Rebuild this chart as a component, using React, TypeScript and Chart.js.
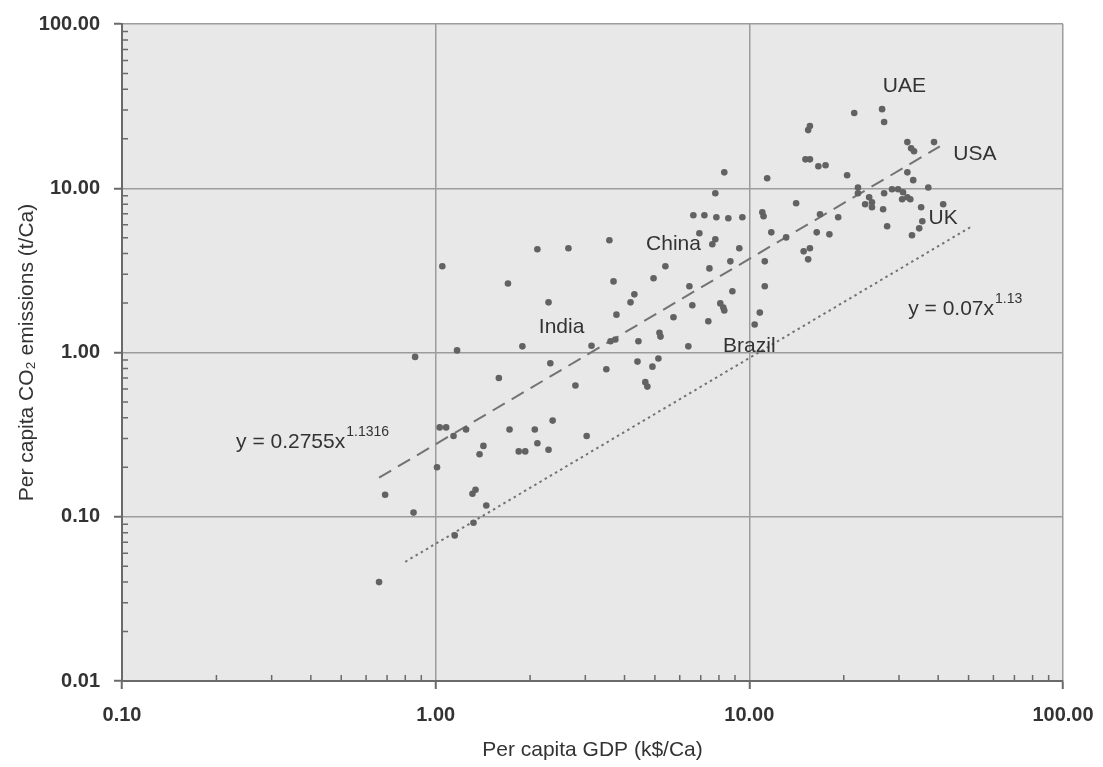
import React, { useEffect, useRef } from "react";
import { Chart, registerables } from "chart.js";

Chart.register(...registerables);

// Per capita GDP (k$/Ca) for each country point
const gdp = [
  0.66, 0.69, 0.85, 0.86, 1.01, 1.03, 1.08, 1.05, 1.14, 1.17, 1.25, 1.31, 1.34, 1.32, 1.15, 1.45,
  1.38, 1.42, 1.59, 1.7, 1.72, 1.84, 1.93, 1.89, 2.07, 2.11, 2.11, 2.29, 2.29, 2.32, 2.36, 2.65,
  2.79, 3.03, 3.14, 3.5, 3.61, 3.74, 3.58, 3.69, 3.77, 4.18, 4.3, 4.4, 4.43, 4.66, 4.73, 4.91,
  4.95, 5.13, 5.17, 5.21, 5.4, 5.73, 6.39, 6.44, 6.58, 6.63, 6.93, 7.19, 7.4, 7.46, 7.62, 7.79,
  7.79, 7.85, 8.08, 8.26, 8.32, 8.32, 8.57, 8.7, 8.83, 9.29, 9.5, 10.4, 10.8, 11.0, 11.1, 11.2,
  11.2, 11.4, 11.75, 13.1, 14.1, 14.9, 15.4, 15.6, 15.1, 15.6, 16.6, 17.5, 15.4, 15.6, 16.4, 18.0,
  19.2, 20.5, 21.6, 22.2, 22.2, 23.4, 24.1, 24.6, 24.6, 26.5, 26.9, 26.9, 26.7, 27.5, 28.5, 29.8,
  30.9, 31.9, 30.7, 32.6, 31.9, 32.8, 33.5, 31.9, 33.3, 33.0, 34.8, 35.3, 35.6, 37.2, 38.8, 41.5,
  16.8,
];

// Per capita CO2 emissions (t/Ca), same order as gdp
const co2 = [
  0.04, 0.136, 0.106, 0.94, 0.2, 0.35, 0.35, 3.35, 0.31, 1.03, 0.34, 0.138, 0.146, 0.092, 0.077, 0.117,
  0.24, 0.27, 0.7, 2.63, 0.34, 0.25, 0.25, 1.09, 0.34, 0.28, 4.25, 0.256, 2.02, 0.86, 0.385, 4.31,
  0.63, 0.31, 1.1, 0.79, 1.17, 1.2, 4.82, 2.71, 1.7, 2.02, 2.26, 0.88, 1.17, 0.66, 0.62, 0.82,
  2.83, 0.92, 1.32, 1.25, 3.35, 1.64, 1.09, 2.53, 1.94, 6.85, 5.32, 6.85, 1.55, 3.25, 4.56, 4.89,
  9.32, 6.66, 1.99, 1.88, 1.8, 12.5, 6.56, 3.59, 2.36, 4.31, 6.66, 1.48, 1.75, 7.14, 6.75, 3.59,
  2.53, 11.5, 5.39, 5.02, 8.1, 4.13, 3.69, 4.31, 15.0, 15.0, 13.6, 13.8, 22.6, 23.9, 5.39, 5.24,
  6.66, 12.0, 28.7, 10.1, 9.32, 7.99, 8.81, 8.21, 7.66, 30.3, 25.3, 9.32, 7.45, 5.87, 9.86, 9.86,
  9.45, 8.81, 8.57, 8.57, 19.1, 17.5, 16.8, 12.5, 11.2, 5.17, 5.7, 7.66, 6.29, 10.1, 19.1, 7.99,
  6.94,
];

// Fitted trend y = 0.2755x^1.1316 (dashed), end points
const dashedX = [0.66, 40.5];
const dashedY = [0.173, 18.0];
// Reference line y = 0.07x^1.13 (dotted), end points
const dottedX = [0.8, 50.6];
const dottedY = [0.0532, 5.79];

const xTicks = [0.1, 1, 10, 100];
const yTicks = [0.01, 0.1, 1, 10, 100];

const countryNames = ["UAE", "USA", "UK", "China", "India", "Brazil"];
const countryAnchorX = [31.2, 52.4, 41.5, 5.73, 2.52, 10.0];
const countryAnchorY = [41.9, 16.1, 6.56, 4.56, 1.42, 1.088];

const equations = [
  { base: "y = 0.2755x", exp: "1.1316", x: 0.231, y: 0.283 },
  { base: "y = 0.07x", exp: "1.13", x: 32.1, y: 1.83 },
];

const FONT = '"Liberation Sans", Arial, Helvetica, sans-serif';
const TEXT = "#333333";

const backgroundPlugin = {
  id: "plotBg",
  beforeDraw(chart: any) {
    const { ctx, chartArea } = chart;
    ctx.save();
    ctx.fillStyle = "#ffffff";
    ctx.fillRect(0, 0, chart.width, chart.height);
    ctx.fillStyle = "#e8e8e8";
    ctx.fillRect(chartArea.left, chartArea.top, chartArea.right - chartArea.left, chartArea.bottom - chartArea.top);
    ctx.restore();
  },
};

const minorTickPlugin = {
  id: "minorTicks",
  afterDraw(chart: any) {
    const { ctx, chartArea } = chart;
    const xs = chart.scales.x;
    const ys = chart.scales.y;
    ctx.save();
    ctx.strokeStyle = "#6a6a6a";
    ctx.lineWidth = 1.5;
    ctx.beginPath();
    for (let d = 0; d < xTicks.length - 1; d++) {
      for (let k = 2; k <= 9; k++) {
        const px = xs.getPixelForValue(xTicks[d] * k);
        ctx.moveTo(px, chartArea.bottom);
        ctx.lineTo(px, chartArea.bottom - 6);
      }
    }
    for (let d = 0; d < yTicks.length - 1; d++) {
      for (let k = 2; k <= 9; k++) {
        const py = ys.getPixelForValue(yTicks[d] * k);
        ctx.moveTo(chartArea.left, py);
        ctx.lineTo(chartArea.left + 6, py);
      }
    }
    ctx.stroke();
    ctx.restore();
  },
};

const annotationPlugin = {
  id: "annotations",
  afterDatasetsDraw(chart: any) {
    const { ctx } = chart;
    const xs = chart.scales.x;
    const ys = chart.scales.y;
    ctx.save();
    ctx.fillStyle = TEXT;
    ctx.font = `21px ${FONT}`;
    ctx.textAlign = "center";
    ctx.textBaseline = "middle";
    countryNames.forEach((name, i) => {
      ctx.fillText(name, xs.getPixelForValue(countryAnchorX[i]), ys.getPixelForValue(countryAnchorY[i]));
    });
    ctx.textAlign = "left";
    equations.forEach((eq) => {
      const px = xs.getPixelForValue(eq.x);
      const py = ys.getPixelForValue(eq.y);
      ctx.font = `21px ${FONT}`;
      ctx.fillText(eq.base, px, py);
      const w = ctx.measureText(eq.base).width;
      ctx.font = `14px ${FONT}`;
      ctx.fillText(eq.exp, px + w + 1, py - 10);
    });
    ctx.restore();
  },
};

export default function App() {
  const canvasRef = useRef<HTMLCanvasElement | null>(null);

  useEffect(() => {
    if (!canvasRef.current) return;
    const points = gdp.map((x, i) => ({ x, y: co2[i] }));
    const dashed = dashedX.map((x, i) => ({ x, y: dashedY[i] }));
    const dotted = dottedX.map((x, i) => ({ x, y: dottedY[i] }));

    const chart = new Chart(canvasRef.current, {
      type: "scatter",
      data: {
        datasets: [
          {
            label: "Countries",
            data: points,
            pointRadius: 3.3,
            pointHoverRadius: 3.3,
            pointBackgroundColor: "#626262",
            pointBorderWidth: 0,
            order: 1,
          },
          {
            label: "y = 0.2755x^1.1316",
            data: dashed,
            showLine: true,
            pointRadius: 0,
            borderColor: "#737373",
            borderWidth: 2,
            borderDash: [14, 8],
            order: 2,
          },
          {
            label: "y = 0.07x^1.13",
            data: dotted,
            showLine: true,
            pointRadius: 0,
            borderColor: "#737373",
            borderWidth: 2,
            borderDash: [2.5, 3.5],
            order: 2,
          },
        ],
      },
      options: {
        responsive: false,
        animation: false,
        layout: { padding: { top: 24, right: 40, left: 0, bottom: 0 } },
        plugins: { legend: { display: false }, tooltip: { enabled: false } },
        scales: {
          x: {
            type: "logarithmic",
            min: 0.1,
            max: 100,
            afterBuildTicks: (s: any) => {
              s.ticks = xTicks.map((v) => ({ value: v }));
            },
            afterFit: (s: any) => {
              s.height = 86;
              s.paddingLeft = 0;
              s.paddingRight = 0;
            },
            ticks: {
              callback: (v: any) => Number(v).toFixed(2),
              font: { family: FONT, size: 20, weight: "bold" },
              color: TEXT,
              padding: 14,
              maxRotation: 0,
              autoSkip: false,
            },
            grid: { color: "#9c9c9c", lineWidth: 1.5, tickLength: 8, tickColor: "#6a6a6a", tickWidth: 2 },
            border: { color: "#6a6a6a", width: 2 },
            title: {
              display: true,
              text: "Per capita GDP (k$/Ca)",
              font: { family: FONT, size: 21 },
              color: TEXT,
              padding: { top: 4, bottom: 4 },
            },
          },
          y: {
            type: "logarithmic",
            min: 0.01,
            max: 100,
            afterBuildTicks: (s: any) => {
              s.ticks = yTicks.map((v) => ({ value: v }));
            },
            afterFit: (s: any) => {
              s.width = 122;
              s.paddingTop = 0;
              s.paddingBottom = 0;
            },
            ticks: {
              callback: (v: any) => Number(v).toFixed(2),
              font: { family: FONT, size: 20, weight: "bold" },
              color: TEXT,
              padding: 14,
              autoSkip: false,
            },
            grid: { color: "#9c9c9c", lineWidth: 1.5, tickLength: 8, tickColor: "#6a6a6a", tickWidth: 2 },
            border: { color: "#6a6a6a", width: 2 },
            title: {
              display: true,
              text: "Per capita CO₂ emissions (t/Ca)",
              font: { family: FONT, size: 21 },
              color: TEXT,
              padding: { top: 15, bottom: 15 },
            },
          },
        },
      },
      plugins: [backgroundPlugin, minorTickPlugin, annotationPlugin],
    } as any);

    return () => chart.destroy();
  }, []);

  return (
    <div style={{ position: "absolute", left: 0, top: 0, width: 1103, height: 767 }}>
      <canvas ref={canvasRef} width={1103} height={767} />
    </div>
  );
}
